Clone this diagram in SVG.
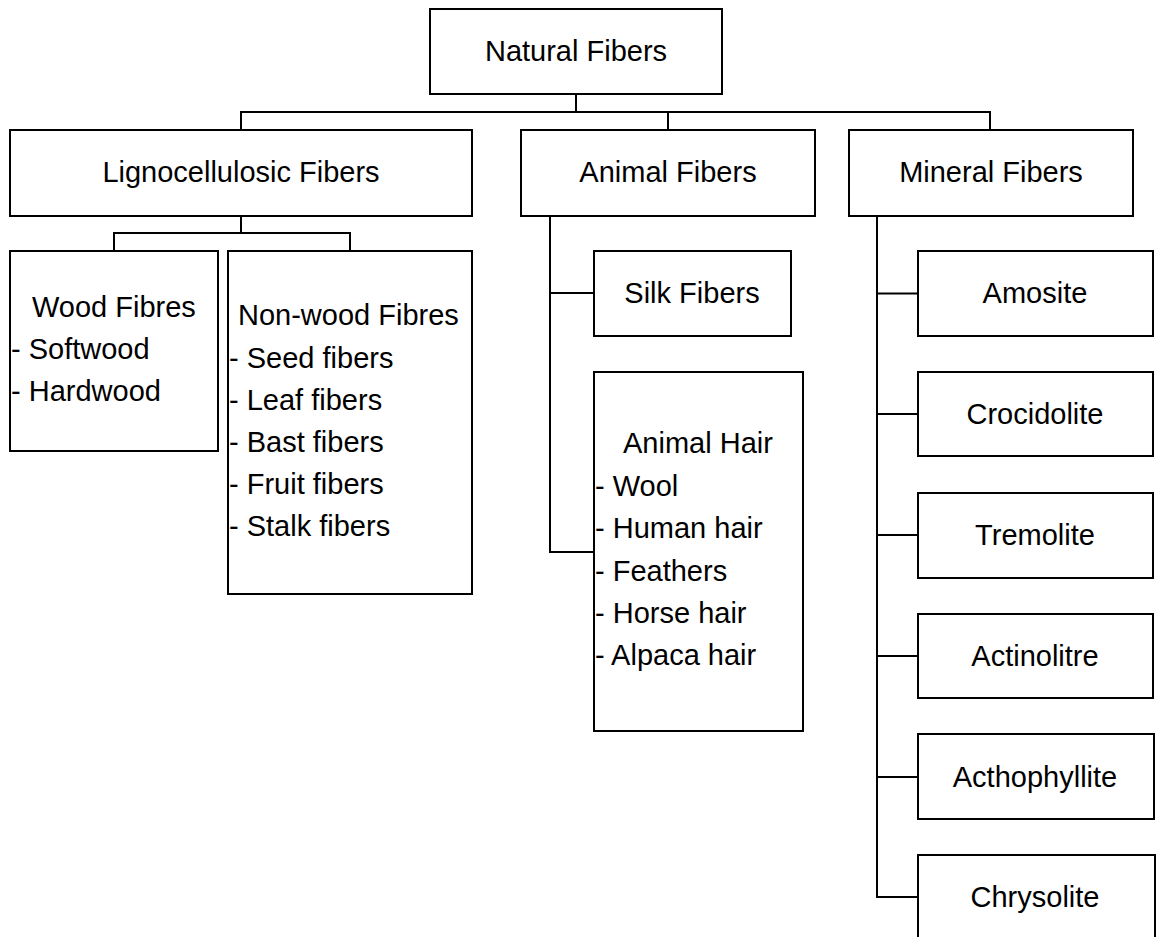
<svg xmlns="http://www.w3.org/2000/svg" width="1157" height="937" viewBox="0 0 1157 937">
<style>
.box{fill:#fff;stroke:#000;stroke-width:2}
.c{fill:none;stroke:#000;stroke-width:2}
text{font-family:"Liberation Sans",Arial,sans-serif;font-size:29px;fill:#000}
.m{text-anchor:middle}
</style>
<rect width="1157" height="937" fill="#fff"/>
<g id="connectors">
<path class="c" d="M576 94V112M241 130V112H990V130M668 112V130"/>
<path class="c" d="M241 216V233M114 251V233H350V251"/>
<path class="c" d="M550 216V552H594M550 293H594"/>
<path class="c" d="M877 216V897H918M877 293.5H918M877 414H918M877 535H918M877 656H918M877 777H918"/>
</g>
<g id="natural"><rect class="box" x="430" y="9" width="292" height="85"/><text class="m" x="576" y="61">Natural Fibers</text></g>
<g id="ligno"><rect class="box" x="10" y="130" width="462" height="86"/><text class="m" x="241" y="182">Lignocellulosic Fibers</text></g>
<g id="animal"><rect class="box" x="521" y="130" width="294" height="86"/><text class="m" x="668" y="182">Animal Fibers</text></g>
<g id="mineral"><rect class="box" x="849" y="130" width="284" height="86"/><text class="m" x="991" y="182">Mineral Fibers</text></g>
<g id="wood"><rect class="box" x="10" y="251" width="208" height="200"/>
<text x="32" y="317">Wood Fibres</text><text x="11" y="359">- Softwood</text><text x="11" y="401">- Hardwood</text></g>
<g id="nonwood"><rect class="box" x="228" y="251" width="244" height="343"/>
<text x="238" y="325">Non-wood Fibres</text><text x="229" y="368">- Seed fibers</text><text x="229" y="410">- Leaf fibers</text><text x="229" y="452">- Bast fibers</text><text x="229" y="494">- Fruit fibers</text><text x="229" y="536">- Stalk fibers</text></g>
<g id="silk"><rect class="box" x="594" y="251" width="197" height="85"/><text class="m" x="692" y="303">Silk Fibers</text></g>
<g id="hair"><rect class="box" x="594" y="372" width="209" height="359"/>
<text x="623" y="453">Animal Hair</text><text x="595" y="496">- Wool</text><text x="595" y="538">- Human hair</text><text x="595" y="581">- Feathers</text><text x="595" y="623">- Horse hair</text><text x="595" y="665">- Alpaca hair</text></g>
<g id="amosite"><rect class="box" x="918" y="251" width="235" height="85"/><text class="m" x="1035" y="303">Amosite</text></g>
<g id="crocidolite"><rect class="box" x="918" y="372" width="235" height="84"/><text class="m" x="1035" y="424">Crocidolite</text></g>
<g id="tremolite"><rect class="box" x="918" y="493" width="235" height="85"/><text class="m" x="1035" y="545">Tremolite</text></g>
<g id="actinolitre"><rect class="box" x="918" y="614" width="235" height="84"/><text class="m" x="1035" y="666">Actinolitre</text></g>
<g id="acthophyllite"><rect class="box" x="918" y="734" width="236" height="85"/><text class="m" x="1035" y="787">Acthophyllite</text></g>
<g id="chrysolite"><rect class="box" x="918" y="855" width="237" height="85"/><text class="m" x="1035" y="907">Chrysolite</text></g>
</svg>
